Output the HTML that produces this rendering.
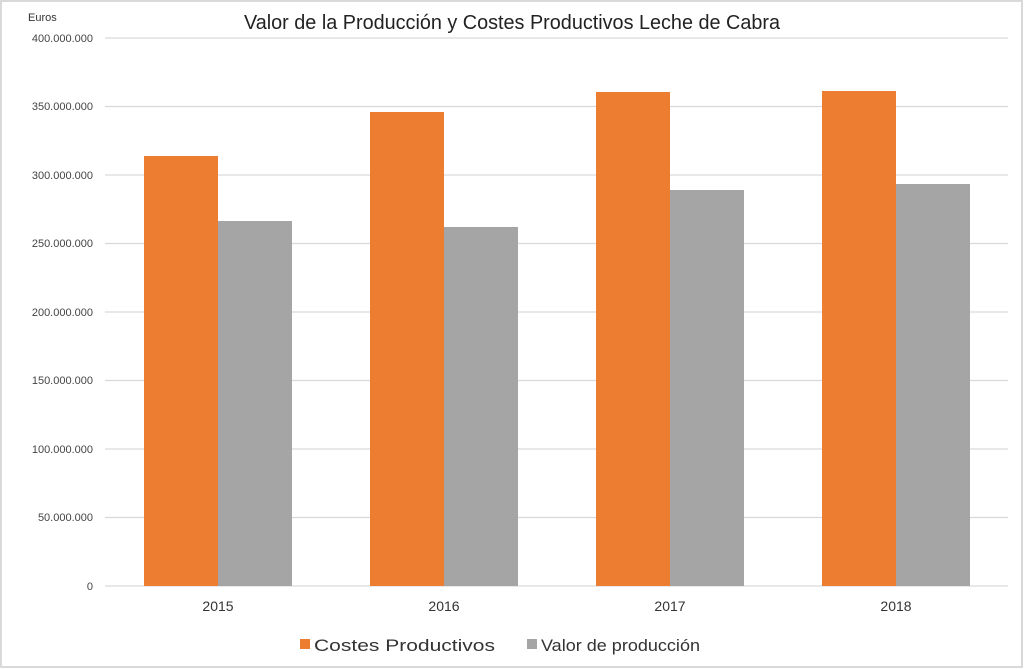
<!DOCTYPE html>
<html><head><meta charset="utf-8"><style>
html,body{margin:0;padding:0;background:#fff;}
svg{display:block;font-family:"Liberation Sans","DejaVu Sans",sans-serif;}
</style></head><body>
<svg width="1024" height="670" viewBox="0 0 1024 670" xmlns="http://www.w3.org/2000/svg">
<rect x="1" y="1" width="1021" height="666" fill="#fff" stroke="#d9d9d9" stroke-width="2"/>
<text x="512" y="29" font-size="20" text-anchor="middle" fill="#222" textLength="536" lengthAdjust="spacingAndGlyphs">Valor de la Producción y Costes Productivos Leche de Cabra</text>
<text x="28" y="21" font-size="11" fill="#333">Euros</text>
<g stroke="#d9d9d9" stroke-width="1.2">
<line x1="105" x2="1008" y1="38" y2="38"/>
<line x1="105" x2="1008" y1="106.5" y2="106.5"/>
<line x1="105" x2="1008" y1="175" y2="175"/>
<line x1="105" x2="1008" y1="243.5" y2="243.5"/>
<line x1="105" x2="1008" y1="312" y2="312"/>
<line x1="105" x2="1008" y1="380.5" y2="380.5"/>
<line x1="105" x2="1008" y1="449" y2="449"/>
<line x1="105" x2="1008" y1="517.5" y2="517.5"/>
<line x1="105" x2="1008" y1="586" y2="586"/>
</g>
<g font-size="11" fill="#444" text-anchor="end">
<text x="93" y="42">400.000.000</text>
<text x="93" y="110">350.000.000</text>
<text x="93" y="179">300.000.000</text>
<text x="93" y="247">250.000.000</text>
<text x="93" y="316">200.000.000</text>
<text x="93" y="384">150.000.000</text>
<text x="93" y="453">100.000.000</text>
<text x="93" y="521">50.000.000</text>
<text x="93" y="590">0</text>
</g>
<g fill="#ed7d31">
<rect x="144" y="156" width="74" height="430"/>
<rect x="370" y="112" width="74" height="474"/>
<rect x="596" y="92" width="74" height="494"/>
<rect x="822" y="91" width="74" height="495"/>
</g>
<g fill="#a5a5a5">
<rect x="218" y="221" width="74" height="365"/>
<rect x="444" y="227" width="74" height="359"/>
<rect x="670" y="190" width="74" height="396"/>
<rect x="896" y="184" width="74" height="402"/>
</g>
<g font-size="14" fill="#333" text-anchor="middle">
<text x="218" y="611">2015</text>
<text x="444" y="611">2016</text>
<text x="670" y="611">2017</text>
<text x="896" y="611">2018</text>
</g>
<rect x="300" y="639" width="10" height="10" fill="#ed7d31"/>
<text x="314" y="651" font-size="17" fill="#333" textLength="181" lengthAdjust="spacingAndGlyphs">Costes Productivos</text>
<rect x="527" y="639" width="10" height="10" fill="#a5a5a5"/>
<text x="541" y="651" font-size="17" fill="#333" textLength="159" lengthAdjust="spacingAndGlyphs">Valor de producción</text>
</svg>
</body></html>
